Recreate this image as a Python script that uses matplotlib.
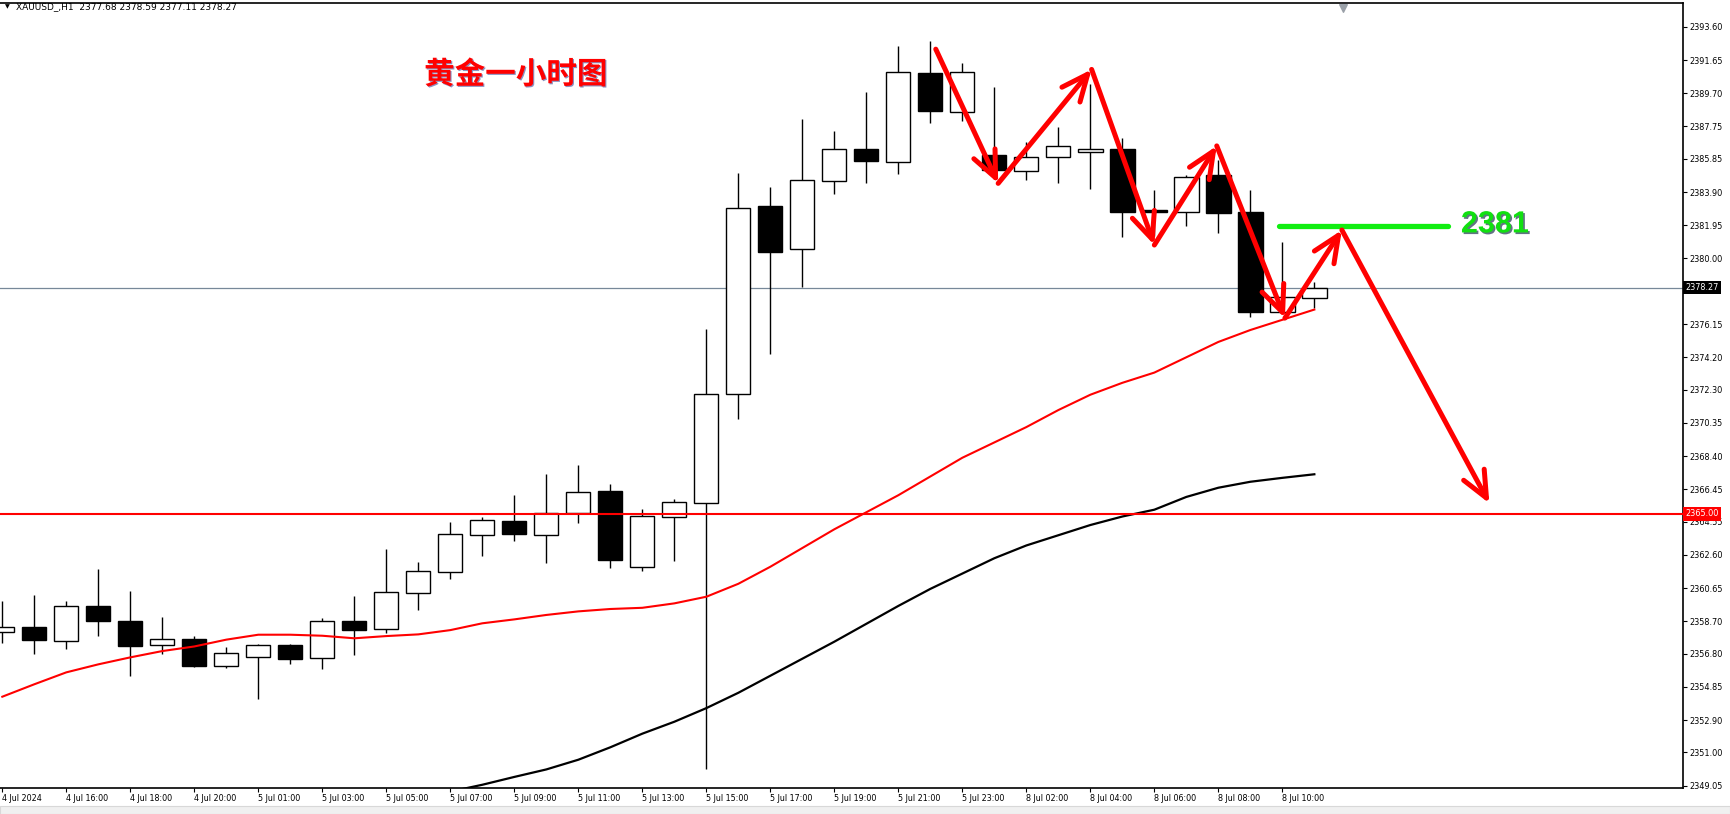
import numpy as np
import matplotlib
matplotlib.use('Agg')
import matplotlib.pyplot as plt
import matplotlib.patheffects as pe
from matplotlib.patches import Rectangle

plt.rcParams['font.family'] = ['DejaVu Sans']

# XAUUSD H1 candles, 4 Jul 14:00 .. 8 Jul 11:00
opens = [2358.10, 2358.35, 2357.56, 2359.59, 2358.69, 2357.29, 2357.64, 2356.11, 2356.64, 2357.29,
         2356.58, 2358.69, 2358.28, 2360.34, 2361.63, 2363.80, 2364.58, 2363.80, 2365.07, 2366.34,
         2361.92, 2364.86, 2365.68, 2372.03, 2383.08, 2380.57, 2384.58, 2386.42, 2385.70, 2390.88,
         2388.63, 2386.08, 2385.17, 2385.99, 2386.28, 2386.42, 2382.84, 2382.76, 2384.87, 2382.74,
         2376.84, 2377.68]
highs = [2359.90, 2360.24, 2359.90, 2361.75, 2360.47, 2358.95, 2357.83, 2357.19, 2357.36, 2357.34,
         2358.89, 2360.18, 2362.94, 2362.18, 2364.50, 2364.82, 2366.11, 2367.34, 2367.87, 2366.75,
         2365.29, 2365.87, 2375.87, 2384.99, 2384.19, 2388.18, 2387.48, 2389.77, 2392.47, 2392.76,
         2391.47, 2390.06, 2386.81, 2387.73, 2390.24, 2387.05, 2384.02, 2384.89, 2385.79, 2384.03,
         2380.99, 2378.59]
lows = [2357.44, 2356.79, 2357.09, 2357.85, 2355.50, 2356.79, 2356.01, 2355.97, 2354.12, 2356.21,
        2355.91, 2356.73, 2357.99, 2359.36, 2361.20, 2362.55, 2363.43, 2362.14, 2364.48, 2361.84,
        2361.67, 2362.22, 2350.02, 2370.57, 2374.37, 2378.34, 2383.80, 2384.44, 2384.97, 2387.96,
        2388.08, 2385.13, 2384.62, 2384.44, 2384.10, 2381.27, 2381.30, 2381.92, 2381.48, 2376.58,
        2376.84, 2377.11]
closes = [2358.36, 2357.60, 2359.58, 2358.73, 2357.26, 2357.64, 2356.09, 2356.82, 2357.29, 2356.50,
          2358.69, 2358.20, 2360.40, 2361.63, 2363.80, 2364.62, 2363.84, 2365.03, 2366.29, 2362.31,
          2364.86, 2365.68, 2372.03, 2382.95, 2380.39, 2384.58, 2386.40, 2385.73, 2390.92, 2388.69,
          2390.92, 2385.19, 2385.96, 2386.58, 2386.42, 2382.74, 2382.76, 2384.78, 2382.68, 2376.84,
          2377.74, 2378.27]

ma_red = [2354.27, 2355.00, 2355.70, 2356.17, 2356.58, 2356.95, 2357.22, 2357.62, 2357.91, 2357.91,
          2357.85, 2357.70, 2357.83, 2357.93, 2358.18, 2358.58, 2358.81, 2359.07, 2359.28, 2359.42,
          2359.49, 2359.75, 2360.14, 2360.90, 2361.90, 2363.00, 2364.10, 2365.10, 2366.10, 2367.20,
          2368.30, 2369.20, 2370.10, 2371.10, 2372.00, 2372.70, 2373.30, 2374.20, 2375.10, 2375.80,
          2376.40, 2377.00]
ma_black = [np.nan] * 14 + [2348.70, 2349.10, 2349.56, 2350.00, 2350.57, 2351.30, 2352.10, 2352.80,
                            2353.60, 2354.50, 2355.50, 2356.50, 2357.50, 2358.55, 2359.60, 2360.60,
                            2361.50, 2362.40, 2363.15, 2363.75, 2364.35, 2364.85, 2365.25, 2366.00,
                            2366.54, 2366.89, 2367.12, 2367.33]

time_labels = ['4 Jul 2024', '4 Jul 16:00', '4 Jul 18:00', '4 Jul 20:00', '5 Jul 01:00',
               '5 Jul 03:00', '5 Jul 05:00', '5 Jul 07:00', '5 Jul 09:00', '5 Jul 11:00',
               '5 Jul 13:00', '5 Jul 15:00', '5 Jul 17:00', '5 Jul 19:00', '5 Jul 21:00',
               '5 Jul 23:00', '8 Jul 02:00', '8 Jul 04:00', '8 Jul 06:00', '8 Jul 08:00',
               '8 Jul 10:00']
price_ticks = [2393.60, 2391.65, 2389.70, 2387.75, 2385.85, 2383.90, 2381.95, 2380.00,
               2376.15, 2374.20, 2372.30, 2370.35, 2368.40, 2366.45, 2364.55, 2362.60,
               2360.65, 2358.70, 2356.80, 2354.85, 2352.90, 2351.00, 2349.05]

bid_price = 2378.27
support = 2365.00
resistance = 2381.92
resistance_span = (39.88, 45.19)
# hand-drawn zig-zag forecast (bar index, price)
path_x = [29.17, 31.12, 34.04, 36.00, 37.95, 40.08, 41.86, 46.47]
path_y = [2392.29, 2384.41, 2391.10, 2380.79, 2386.61, 2376.50, 2381.67, 2365.62]

W, H = 1730, 814
fig = plt.figure(figsize=(W / 100, H / 100), dpi=100)
fig.patches.append(Rectangle((0, 0), 1, 8 / H, transform=fig.transFigure,
                             facecolor='#f0f0f0', edgecolor='#d8d8d8', lw=0.8))
ax = fig.add_axes([0, 26 / H, 1683 / W, 785 / H])

x = np.arange(len(opens))
o = np.array(opens)
c = np.array(closes)
bull = c >= o

ax.vlines(x, lows, highs, color='black', lw=1.0, zorder=2)
ax.bar(x, np.abs(c - o) + 0.02, bottom=np.minimum(o, c) - 0.01, width=0.76,
       color=np.where(bull, 'white', 'black'), edgecolor='black', linewidth=1.0, zorder=3)

ax.plot(x, ma_red, color='red', lw=1.5, zorder=4)
ax.plot(x, ma_black, color='black', lw=1.6, zorder=4)
ax.axhline(support, color='red', lw=1.5, zorder=4)
ax.axhline(bid_price, color='#778899', lw=0.9, zorder=1)

ax.plot(resistance_span, [resistance, resistance], color='#11ee11', lw=3.8,
        solid_capstyle='round', zorder=5)

for i in range(len(path_x) - 1):
    ax.annotate('', xy=(path_x[i + 1], path_y[i + 1]), xytext=(path_x[i], path_y[i]),
                arrowprops=dict(arrowstyle='->,head_length=0.95,head_width=0.42',
                                mutation_scale=20, color='red', lw=3.6,
                                shrinkA=0, shrinkB=0, capstyle='round', joinstyle='round'),
                zorder=6)

ax.text(45.58, 2382.0, '2381', color='#11e011', fontsize=22, fontweight='bold',
        family=['Liberation Sans', 'DejaVu Sans'], ha='left', va='center', zorder=7,
        path_effects=[pe.withSimplePatchShadow(offset=(1.2, -1.2), shadow_rgbFace='#203850', alpha=0.7)])
ax.text(16.04, 2390.79, '黄金一小时图', color='red', fontsize=22, fontweight='bold',
        family=['Noto Sans CJK SC', 'DejaVu Sans'], ha='center', va='center', zorder=7,
        path_effects=[pe.withSimplePatchShadow(offset=(0.8, -0.8), shadow_rgbFace='#2a3a90', alpha=0.55)])

ax.set_xlim(-0.072, 52.52)
ax.set_ylim(2348.91, 2395.0)

ax.set_xticks(x[::2][:len(time_labels)])
ax.set_xticklabels(time_labels, ha='left', fontsize=5.8)
ax.yaxis.tick_right()
ax.set_yticks(price_ticks)
ax.set_yticklabels([f'{p:.2f}' for p in price_ticks], fontsize=5.9)
ax.tick_params(axis='x', length=3, width=0.8, pad=1.5)
ax.tick_params(axis='y', length=3, width=0.8, pad=1.5)
ax.spines['left'].set_visible(False)
for s in ['top', 'right', 'bottom']:
    ax.spines[s].set_linewidth(1.2)

ytr = ax.get_yaxis_transform()
ax.text(1.0015, bid_price, f'{bid_price:.2f}', transform=ytr, color='white', fontsize=5.9,
        ha='left', va='center', clip_on=False, zorder=8,
        bbox=dict(boxstyle='square,pad=0.25', facecolor='black', edgecolor='none'))
ax.text(1.0015, support, f'{support:.2f}', transform=ytr, color='white', fontsize=5.9,
        ha='left', va='center', clip_on=False, zorder=8,
        bbox=dict(boxstyle='square,pad=0.25', facecolor='red', edgecolor='none'))

# chart shift marker
ax.scatter([41.9], [0.993], marker='v', s=30, color='#9aa0a8', transform=ax.get_xaxis_transform(),
           clip_on=False, zorder=8)

fig.text(5 / W, 1 - 7 / H, '▼', fontsize=4.5, va='center', ha='left')
fig.text(16 / W, 1 - 7 / H, 'XAUUSD_,H1  2377.68 2378.59 2377.11 2378.27', fontsize=6.5,
         va='center', ha='left')

fig.savefig('out.png', dpi=100)
